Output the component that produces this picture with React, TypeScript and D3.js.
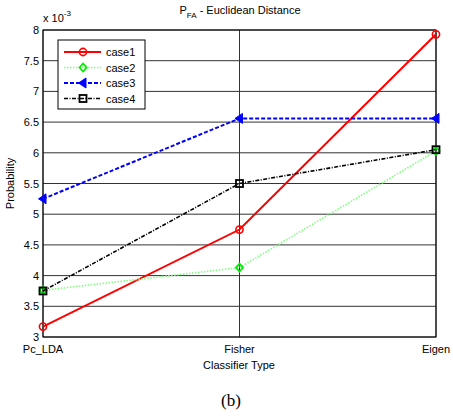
import React from "react";
import * as d3 from "d3";

const categories = ["Pc_LDA", "Fisher", "Eigen"];
const case1 = [3.17, 4.75, 7.93];
const case2 = [3.76, 4.13, 6.03];
const case3 = [5.25, 6.56, 6.56];
const case4 = [3.75, 5.5, 6.05];
const yTicks = [3, 3.5, 4, 4.5, 5, 5.5, 6, 6.5, 7, 7.5, 8];
const seriesNames = ["case1", "case2", "case3", "case4"];

const width = 453;
const height = 416;
const left = 43;
const right = 436;
const top = 30;
const bottom = 337;
const font = "Liberation Sans, Arial, sans-serif";

const styles = [
  { line: "#ff0000", marker: "#ff0000", w: 2, dash: "none", shape: "circle" },
  { line: "#80ff80", marker: "#00ee00", w: 1.6, dash: "1.5,1.5", shape: "diamond" },
  { line: "#0000ff", marker: "#0000ff", w: 2, dash: "4,2", shape: "triangle" },
  { line: "#000000", marker: "#000000", w: 1.6, dash: "4,1.5,1,1.5", shape: "square" },
];

function Marker({ shape, x, y, color }: { shape: string; x: number; y: number; color: string }) {
  if (shape === "circle") return <circle cx={x} cy={y} r={3.6} fill="none" stroke={color} strokeWidth={1.6} />;
  if (shape === "diamond")
    return <path d={`M${x},${y - 4}L${x + 3.5},${y}L${x},${y + 4}L${x - 3.5},${y}Z`} fill="none" stroke={color} strokeWidth={1.8} />;
  if (shape === "triangle")
    return <path d={`M${x - 4.5},${y}L${x + 3},${y - 5}L${x + 3},${y + 5}Z`} fill={color} stroke={color} strokeWidth={1} />;
  return <rect x={x - 3.5} y={y - 3.5} width={7} height={7} fill="none" stroke={color} strokeWidth={1.8} />;
}

export default function App() {
  const data = [case1, case2, case3, case4];
  const x = d3.scalePoint<string>().domain(categories).range([left, right]);
  const y = d3.scaleLinear().domain([3, 8]).range([bottom, top]);
  const line = d3
    .line<number>()
    .x((_, i) => x(categories[i]) as number)
    .y((d) => y(d));

  return (
    <svg width={width} height={height} style={{ position: "absolute", left: 0, top: 0, background: "#fff" }}>
      <rect width={width} height={height} fill="#fff" />
      {/* grid */}
      {yTicks.map((t) => (
        <line key={t} x1={left} x2={right} y1={y(t)} y2={y(t)} stroke="#333" strokeWidth={1} />
      ))}
      {categories.map((c) => (
        <line key={c} x1={x(c)} x2={x(c)} y1={top} y2={bottom} stroke="#333" strokeWidth={1} />
      ))}
      <rect x={left} y={top} width={right - left} height={bottom - top} fill="none" stroke="#000" strokeWidth={1} />
      {/* y tick labels */}
      {yTicks.map((t) => (
        <text key={t} x={left - 4} y={y(t) + 4} textAnchor="end" fontFamily={font} fontSize={11}>
          {String(t)}
        </text>
      ))}
      {categories.map((c) => (
        <text key={c} x={x(c)} y={bottom + 16} textAnchor="middle" fontFamily={font} fontSize={11}>
          {c}
        </text>
      ))}
      <text x={left} y={top - 8} fontFamily={font} fontSize={11}>
        x 10
        <tspan dy={-6} fontSize={8}>
          -3
        </tspan>
      </text>
      <text x={240} y={14} textAnchor="middle" fontFamily={font} fontSize={11}>
        P
        <tspan dy={4} fontSize={8}>
          FA
        </tspan>
        <tspan dy={-4}> - Euclidean Distance</tspan>
      </text>
      <text x={239} y={369} textAnchor="middle" fontFamily={font} fontSize={11}>
        Classifier Type
      </text>
      <text transform={`translate(14,${(top + bottom) / 2}) rotate(-90)`} textAnchor="middle" fontFamily={font} fontSize={11}>
        Probability
      </text>
      <text x={231} y={406} textAnchor="middle" fontFamily="Liberation Serif, Times New Roman, serif" fontSize={17}>
        (b)
      </text>
      {/* series */}
      {data.map((d, i) => (
        <g key={seriesNames[i]}>
          <path d={line(d) ?? ""} fill="none" stroke={styles[i].line} strokeWidth={styles[i].w} strokeDasharray={styles[i].dash} />
          {d.map((v, j) => (
            <Marker key={j} shape={styles[i].shape} x={x(categories[j]) as number} y={y(v)} color={styles[i].marker} />
          ))}
        </g>
      ))}
      {/* legend */}
      <rect x={58} y={40} width={87} height={69} fill="#fff" stroke="#000" strokeWidth={1} />
      {seriesNames.map((n, i) => {
        const ly = 52 + i * 15.5;
        return (
          <g key={n}>
            <line x1={64} x2={101} y1={ly} y2={ly} stroke={styles[i].line} strokeWidth={styles[i].w} strokeDasharray={styles[i].dash} />
            <Marker shape={styles[i].shape} x={83} y={ly} color={styles[i].marker} />
            <text x={106} y={ly + 4} fontFamily={font} fontSize={11}>
              {n}
            </text>
          </g>
        );
      })}
    </svg>
  );
}
